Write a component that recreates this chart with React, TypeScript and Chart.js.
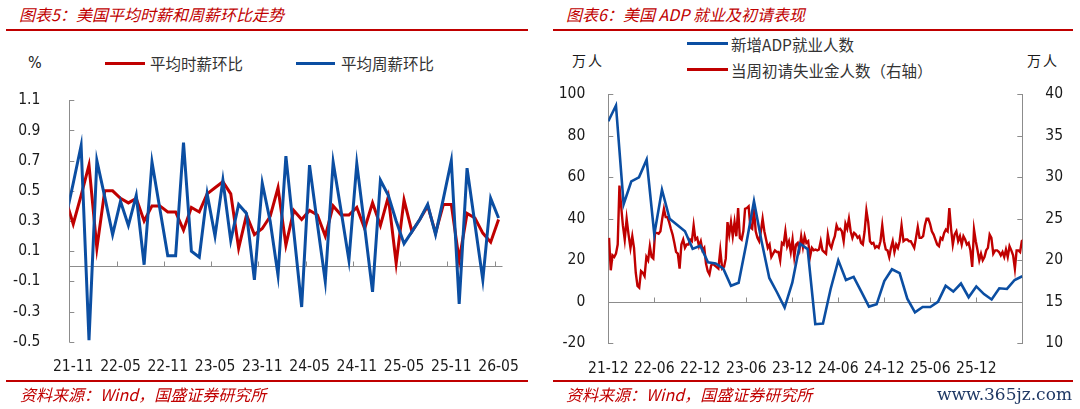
import { useEffect, useRef } from "react";
import { Chart, registerables } from "chart.js";

Chart.register(...registerables);

const RED = "#c00000";
const BLUE = "#0b4ea2";
const AXIS = "#8c8c8c";
const TXT = "#1a1a1a";
const NUM_FONT = "'DejaVu Sans Condensed', 'Liberation Sans', sans-serif";
const CJK_FONT = "'Noto Sans CJK SC', sans-serif";

// 图表5：美国平均时薪和周薪环比（%），'21-10' 只用来画出左端被裁掉的一段
const wageMonths = [
  "21-10", "21-11", "21-12", "22-01", "22-02", "22-03", "22-04", "22-05", "22-06", "22-07",
  "22-08", "22-09", "22-10", "22-11", "22-12", "23-01", "23-02", "23-03", "23-04", "23-05",
  "23-06", "23-07", "23-08", "23-09", "23-10", "23-11", "23-12", "24-01", "24-02", "24-03",
  "24-04", "24-05", "24-06", "24-07", "24-08", "24-09", "24-10", "24-11", "24-12", "25-01",
  "25-02", "25-03", "25-04", "25-05", "25-06", "25-07", "25-08", "25-09", "25-10", "25-11",
  "25-12", "26-01", "26-02", "26-03", "26-04", "26-05",
];
const hourlyWage = [
  0.45, 0.28, 0.47, 0.67, 0.12, 0.5, 0.5, 0.45, 0.42, 0.45,
  0.3, 0.4, 0.4, 0.36, 0.36, 0.24, 0.39, 0.36, 0.48, 0.52,
  0.56, 0.48, 0.12, 0.34, 0.21, 0.25, 0.33, 0.52, 0.14, 0.37,
  0.31, 0.37, 0.34, 0.2, 0.4, 0.34, 0.34, 0.39, 0.25, 0.42,
  0.27, 0.46, 0.02, 0.44, 0.23, 0.31, 0.4, 0.22, 0.41, 0.41,
  0.04, 0.35, 0.32, 0.22, 0.16, 0.31,
];
const weeklyWage = [
  0.31, 0.55, 0.8, -0.49, 0.7, 0.46, 0.21, 0.43, 0.27, 0.47,
  0.01, 0.69, 0.38, 0.07, 0.07, 0.82, 0.1, 0.06, 0.48, 0.2,
  0.57, 0.17, 0.41, 0.35, -0.09, 0.55, 0.3, -0.06, 0.73, 0.23,
  -0.27, 0.67, 0.28, -0.1, 0.69, 0.37, 0.04, 0.68, 0.26, -0.17,
  0.57, 0.47, 0.3, 0.15, 0.23, 0.31, 0.41, 0.21, 0.45, 0.7,
  -0.25, 0.65, 0.28, -0.09, 0.45, 0.32,
];

// 图表6：ADP 新增就业（万人，月度，从 2021-12 起）与当周初请（万人，周度）
const adpJobs = [
  87, 94.6, 47, 58, 60, 68.5, 32.5, 54, 40, 37,
  34, 25.5, 27, 19, 18.5, 16, 7.7, 9.2, 28, 48.5,
  29, 11.5, 4.6, -2.8, 9.2, 28, 25.4, -10.8, -10.5, 6.2,
  20, 10.5, 12, 4.9, -2.3, -1.2, 10, 15.7, 13.8, 1.5,
  -5.1, -2.5, -2.5, 0, 7.7, 4.9, 8.8, 2.2, 7.4, 3.7,
  1.1, 6.5, 6.2, 10.5, 12.3,
];
const claimsStart = "2021-12-04";
const joblessClaims = [
  22.7, 18.8, 20.6, 20.4, 20.8, 21.9, 29.0, 26.5, 24.2, 22.5,
  25.0, 23.1, 21.5, 22.9, 21.5, 18.5, 16.9, 16.7, 18.7, 18.5,
  18.1, 20.4, 20.0, 21.7, 20.4, 20.2, 23.3, 23.3, 23.2, 23.5,
  25.0, 26.2, 25.2, 25.2, 24.6, 23.8, 23.1, 22.1, 21.0, 20.8,
  19.0, 21.9, 22.5, 21.5, 21.9, 21.9, 22.5, 22.3, 24.2, 22.5,
  22.7, 21.7, 22.3, 21.2, 21.5, 19.6, 18.7, 18.3, 19.4, 19.6,
  19.4, 19.2, 19.0, 21.2, 19.0, 19.2, 20.2, 24.6, 23.1, 24.6,
  22.9, 24.6, 22.9, 26.3, 22.7, 22.5, 23.5, 26.2, 26.3, 26.5,
  24.0, 23.8, 26.2, 23.5, 22.7, 22.3, 23.5, 25.0, 23.5, 22.5,
  21.5, 21.9, 20.4, 20.8, 21.2, 21.0, 21.0, 20.0, 22.1, 21.9,
  23.5, 21.7, 22.3, 21.0, 22.5, 20.4, 21.9, 22.1, 21.3, 22.9,
  21.6, 22.9, 22.1, 22.3,
  20.4, 21.5, 21.2, 21.3, 21.2, 21.3, 22.3, 21.2, 21.0, 20.8,
  23.1, 21.9, 21.5, 22.3, 22.9, 24.2, 23.7, 23.8, 23.5, 22.3,
  24.4, 23.8, 25.0, 23.5, 22.7, 23.3, 23.1, 22.7, 22.9, 22.1,
  21.9, 23.5, 26.0, 24.6, 22.3, 22.0, 22.1, 21.5, 21.7, 21.5,
  22.3, 24.2, 22.3, 21.3, 21.2, 20.4, 21.5, 22.3, 21.0, 21.9,
  21.5, 22.3, 24.2, 22.3, 22.5, 22.5, 22.3, 22.3, 21.9, 21.5,
  22.7, 24.0, 22.7, 22.7, 22.9, 24.2, 25.0, 25.0, 24.4, 23.5,
  23.1, 22.5, 21.9, 21.7, 22.7, 22.5, 23.3, 23.7, 23.5, 26.3,
  23.8, 21.9, 23.1, 23.5, 22.3, 22.9, 21.9, 22.9, 22.5, 21.9,
  22.1, 21.2, 19.2, 23.7, 22.3, 21.2, 20.0, 20.8, 20.0, 20.4,
  21.2, 21.5, 23.1, 22.7, 20.8, 21.2, 21.2, 21.0, 20.6, 21.0,
  20.4, 21.3, 20.4, 21.7, 21.2, 20.6, 19.0, 21.2, 21.2, 21.0,
  22.3, 22.5,
];
const jobsTickLabels = ["21-12", "22-06", "22-12", "23-06", "23-12", "24-06", "24-12", "25-06", "25-12"];

// 月份位置：2021-12-01 记为 0
const monthPos = (d: Date) => {
  const days = new Date(Date.UTC(d.getUTCFullYear(), d.getUTCMonth() + 1, 0)).getUTCDate();
  return (d.getUTCFullYear() - 2021) * 12 + d.getUTCMonth() - 11 + (d.getUTCDate() - 1) / days;
};

const tickFont = { family: NUM_FONT, size: 15.5 };

const WageChart = () => {
  const ref = useRef<HTMLCanvasElement | null>(null);
  useEffect(() => {
    if (!ref.current) return;
    const frame = {
      id: "wageFrame",
      beforeDatasetsDraw(chart: any) {
        const { ctx, chartArea: a, scales } = chart;
        const x = scales.x, y = scales.y;
        const y0 = Math.round(y.getPixelForValue(0)) + 0.5;
        ctx.save();
        ctx.strokeStyle = AXIS;
        ctx.lineWidth = 1;
        ctx.beginPath();
        ctx.moveTo(a.left, y0);
        ctx.lineTo(a.right, y0);
        for (let v = 6.5; v < wageMonths.length - 1; v += 6) {
          const px = Math.round(x.getPixelForValue(v)) + 0.5;
          ctx.moveTo(px, y0);
          ctx.lineTo(px, y0 - 5);
        }
        y.ticks.forEach((t: any) => {
          const py = Math.round(y.getPixelForValue(t.value)) + 0.5;
          ctx.moveTo(a.left, py);
          ctx.lineTo(a.left + 5, py);
        });
        ctx.stroke();
        ctx.restore();
      },
    };
    const chart = new Chart(ref.current, {
      type: "line",
      data: {
        labels: wageMonths,
        datasets: [
          { label: "平均周薪环比", data: weeklyWage, borderColor: BLUE, borderWidth: 3, pointRadius: 0, tension: 0 },
          { label: "平均时薪环比", data: hourlyWage, borderColor: RED, borderWidth: 3, pointRadius: 0, tension: 0 },
        ],
      },
      options: {
        responsive: false,
        animation: false,
        layout: { padding: { top: 27, right: 37.5, left: 0, bottom: 0 } },
        plugins: { legend: { display: false }, tooltip: { enabled: false } },
        scales: {
          x: {
            type: "category",
            min: "21-11",
            offset: true,
            grid: { display: false },
            border: { display: false },
            afterFit: (s: any) => { s.height = 48.3; },
            ticks: {
              autoSkip: false,
              maxRotation: 0,
              padding: 8,
              color: TXT,
              font: tickFont,
              callback: (v: any) => ((v - 1) % 6 === 0 ? wageMonths[v] : ""),
            },
          },
          y: {
            min: -0.5,
            max: 1.1,
            grid: { display: false },
            border: { display: true, color: AXIS, width: 1 },
            afterFit: (s: any) => { s.width = 69.3; },
            ticks: {
              stepSize: 0.2,
              padding: 21,
              color: TXT,
              font: tickFont,
              callback: (v: any) => Number(v).toFixed(1),
            },
          },
        },
      },
      plugins: [frame],
    });
    return () => chart.destroy();
  }, []);
  return <canvas ref={ref} width={540} height={320} style={{ position: "absolute", left: 0, top: 70 }} />;
};

const JobsChart = () => {
  const ref = useRef<HTMLCanvasElement | null>(null);
  useEffect(() => {
    if (!ref.current) return;
    const start = new Date(claimsStart + "T00:00:00Z").getTime();
    const claimsPoints = joblessClaims.map((v, i) => ({ x: monthPos(new Date(start + i * 7 * 86400000)), y: v }));
    const frame = {
      id: "jobsFrame",
      beforeDatasetsDraw(chart: any) {
        const { ctx, chartArea: a, scales } = chart;
        const x = scales.x, y = scales.y, y1 = scales.y1;
        const y0 = Math.round(y.getPixelForValue(0)) + 0.5;
        ctx.save();
        ctx.strokeStyle = AXIS;
        ctx.lineWidth = 1;
        ctx.beginPath();
        ctx.moveTo(a.left, y0);
        ctx.lineTo(a.right, y0);
        x.ticks.forEach((t: any) => {
          if (t.value <= x.min || t.value >= x.max) return;
          const px = Math.round(x.getPixelForValue(t.value)) + 0.5;
          ctx.moveTo(px, y0);
          ctx.lineTo(px, y0 - 5);
        });
        y.ticks.forEach((t: any) => {
          const py = Math.round(y.getPixelForValue(t.value)) + 0.5;
          ctx.moveTo(a.left, py);
          ctx.lineTo(a.left + 5, py);
        });
        y1.ticks.forEach((t: any) => {
          const py = Math.round(y1.getPixelForValue(t.value)) + 0.5;
          ctx.moveTo(a.right, py);
          ctx.lineTo(a.right - 5, py);
        });
        ctx.stroke();
        ctx.restore();
      },
    };
    const chart = new Chart(ref.current, {
      type: "line",
      data: {
        datasets: [
          {
            label: "新增ADP就业人数",
            data: adpJobs.map((v, i) => ({ x: i, y: v })),
            yAxisID: "y",
            borderColor: BLUE,
            borderWidth: 2.6,
            pointRadius: 0,
            tension: 0,
          },
          {
            label: "当周初请失业金人数（右轴）",
            data: claimsPoints,
            yAxisID: "y1",
            borderColor: RED,
            borderWidth: 2.4,
            pointRadius: 0,
            tension: 0,
          },
        ],
      },
      options: {
        responsive: false,
        animation: false,
        layout: { padding: { top: 14, right: 0, left: 0, bottom: 0 } },
        plugins: { legend: { display: false }, tooltip: { enabled: false } },
        scales: {
          x: {
            type: "linear",
            min: 0,
            max: 54,
            grid: { display: false },
            border: { display: false },
            afterFit: (s: any) => { s.height = 46.7; },
            ticks: {
              stepSize: 6,
              autoSkip: false,
              maxRotation: 0,
              padding: 8,
              color: TXT,
              font: tickFont,
              callback: (v: any) => jobsTickLabels[Math.round(v / 6)] ?? "",
            },
          },
          y: {
            position: "left",
            min: -20,
            max: 100,
            grid: { display: false },
            border: { display: true, color: AXIS, width: 1 },
            afterFit: (s: any) => { s.width = 68.3; },
            ticks: { stepSize: 20, padding: 15, color: TXT, font: tickFont },
          },
          y1: {
            position: "right",
            min: 10,
            max: 40,
            grid: { display: false },
            border: { display: true, color: AXIS, width: 1 },
            afterFit: (s: any) => { s.width = 57.7; },
            ticks: { stepSize: 5, padding: 15, color: TXT, font: tickFont },
          },
        },
      },
      plugins: [frame],
    });
    return () => chart.destroy();
  }, []);
  return <canvas ref={ref} width={540} height={320} style={{ position: "absolute", left: 540, top: 70 }} />;
};

const Text = (p: { x: number; y: number; size: number; color: string; font: string; italic?: boolean; right?: boolean; spacing?: number; children: any }) => (
  <div
    style={{
      position: "absolute",
      left: p.right ? undefined : p.x,
      right: p.right ? 1080 - p.x : undefined,
      top: p.y - 12,
      height: 24,
      lineHeight: "24px",
      fontSize: p.size,
      color: p.color,
      fontFamily: p.font,
      fontStyle: p.italic ? "italic" : "normal",
      letterSpacing: p.spacing ?? 0,
      whiteSpace: "nowrap",
    }}
  >
    {p.children}
  </div>
);

const Bar = (p: { x: number; y: number; w: number; h: number; color: string }) => (
  <div style={{ position: "absolute", left: p.x, top: p.y, width: p.w, height: p.h, background: p.color }} />
);

const App = () => (
  <div style={{ position: "fixed", left: 0, top: 0, width: 1080, height: 409, background: "#fff", overflow: "hidden" }}>
    {/* 左：图表5 */}
    <Text x={19} y={13.5} size={16} color={RED} font={CJK_FONT} italic>图表5：美国平均时薪和周薪环比走势</Text>
    <Bar x={6} y={28.5} w={522} h={2} color={RED} />
    <Text x={28} y={62.5} size={16} color={TXT} font={NUM_FONT}>%</Text>
    <Bar x={105} y={61.5} w={40} h={3} color={RED} />
    <Text x={150} y={62.5} size={15.5} color="#333" font={CJK_FONT}>平均时薪环比</Text>
    <Bar x={296} y={61.5} w={39} h={3} color={BLUE} />
    <Text x={341} y={62.5} size={15.5} color="#333" font={CJK_FONT}>平均周薪环比</Text>
    <WageChart />
    <Bar x={6} y={380} w={522} h={2} color={RED} />
    <Text x={20} y={393.5} size={16} color={RED} font={CJK_FONT} italic>资料来源：Wind，国盛证券研究所</Text>

    {/* 右：图表6 */}
    <Text x={566} y={13.5} size={16} color={RED} font={CJK_FONT} italic>图表6：美国 ADP 就业及初请表现</Text>
    <Bar x={553} y={28.5} w={520} h={2} color={RED} />
    <Bar x={687} y={42} w={41} h={3} color={BLUE} />
    <Text x={731} y={43.5} size={15.5} color="#333" font={CJK_FONT}>新增ADP就业人数</Text>
    <Bar x={687} y={68} w={41} h={3} color={RED} />
    <Text x={731} y={69.5} size={15.5} color="#333" font={CJK_FONT}>当周初请失业金人数（右轴）</Text>
    <Text x={572} y={59.5} size={14} color={TXT} font={CJK_FONT} spacing={2}>万人</Text>
    <Text x={1027} y={59.5} size={14} color={TXT} font={CJK_FONT} spacing={2}>万人</Text>
    <JobsChart />
    <Bar x={553} y={380} w={520} h={2} color={RED} />
    <Text x={566} y={394} size={16} color={RED} font={CJK_FONT} italic>资料来源：Wind，国盛证券研究所</Text>
    <Text x={1072} y={394} size={17} color="#1f3864" font="'DejaVu Serif', serif" right>www.365jz.com</Text>
  </div>
);

export default App;
